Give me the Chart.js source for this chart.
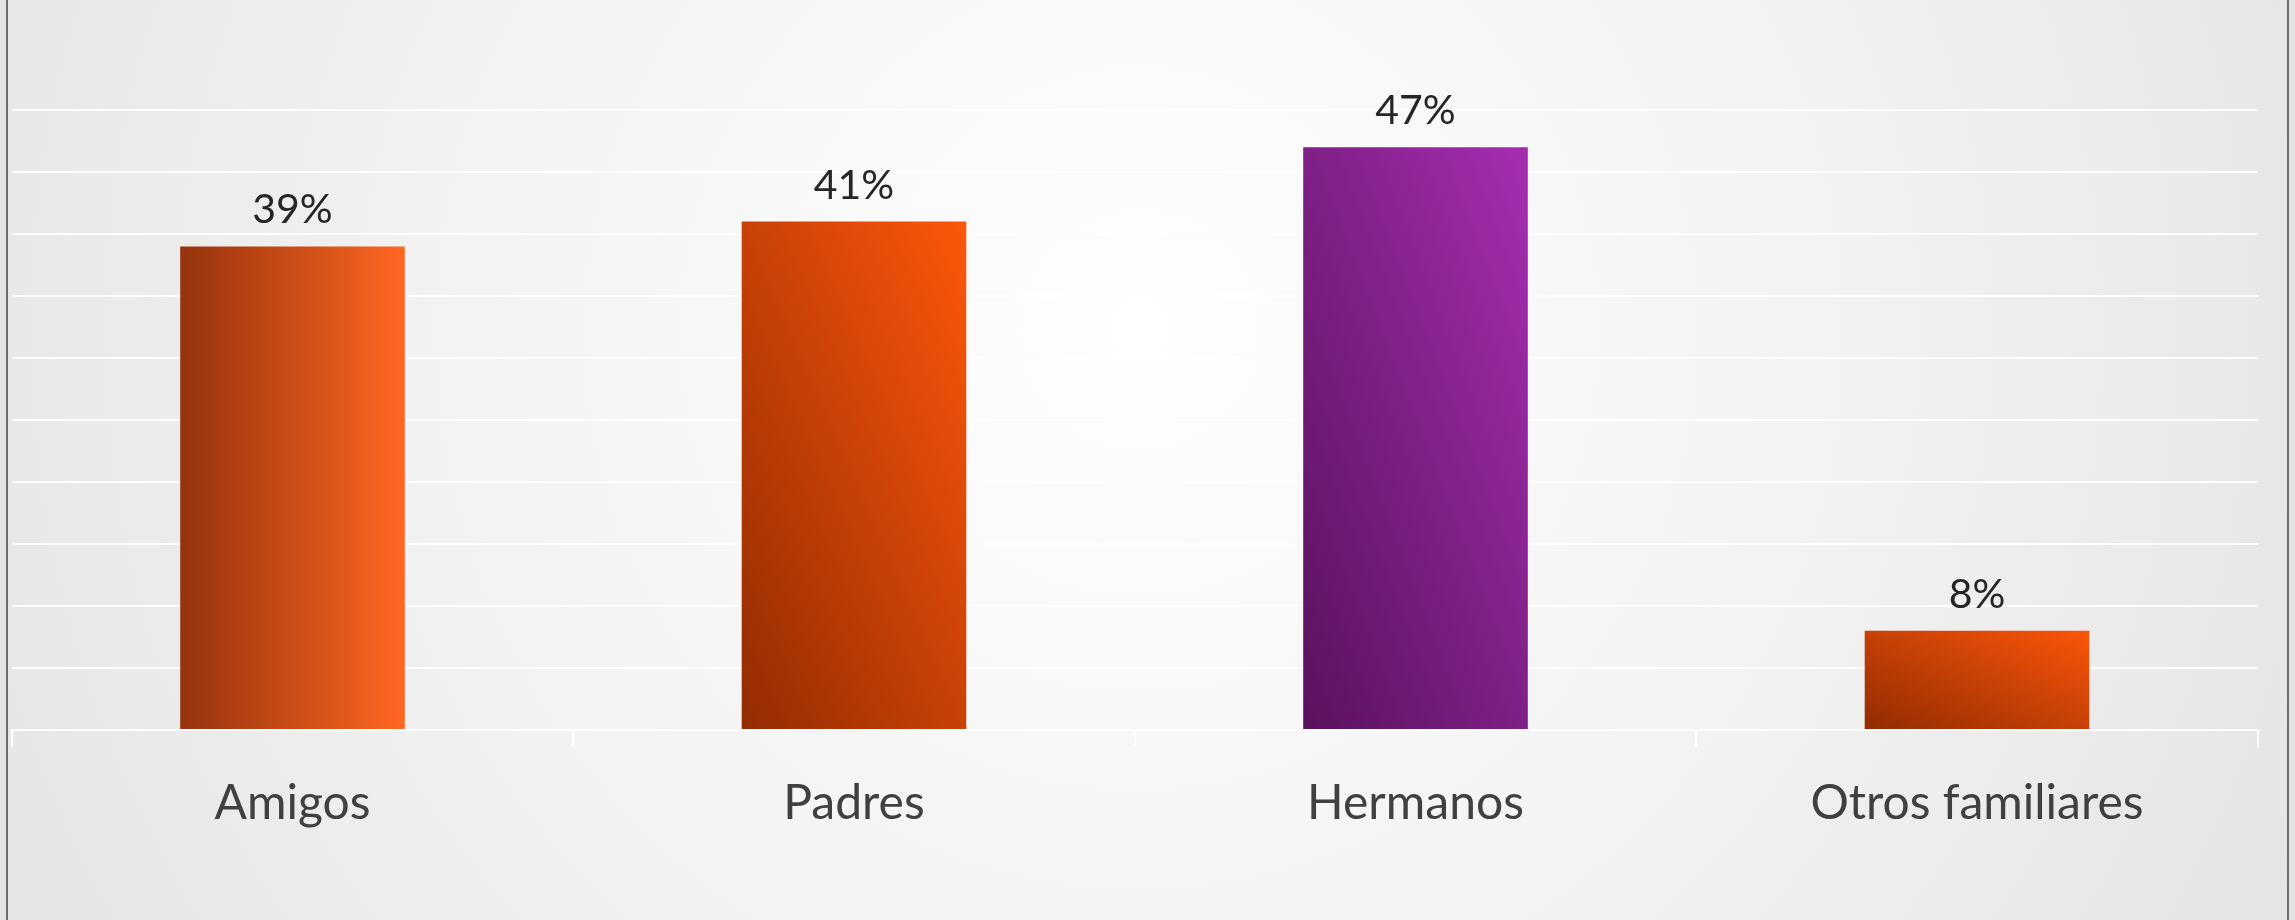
<!DOCTYPE html>
<html>
<head>
<meta charset="utf-8">
<script src="https://cdn.jsdelivr.net/npm/chart.js@4/dist/chart.umd.min.js"></script>
<style>
  html, body { margin: 0; padding: 0; background: #e8e8e8; }
  canvas { display: block; }
</style>
</head>
<body>
<canvas id="c" width="2295" height="920"></canvas>
<script>
// ---- data ----
const categories = ["Amigos", "Padres", "Hermanos", "Otros familiares"];
const values = [39, 41, 47, 8];
const yTickValues = [0, 5, 10, 15, 20, 25, 30, 35, 40, 45, 50];

// ---- styles ----
const barGradients = [
  { dir: "horizontal", stops: ["#96330e", "#ff6720"] },
  { dir: "diagonal",   stops: ["#932c02", "#fd570a"] },
  { dir: "diagonal",   stops: ["#59125d", "#a52eb0"] },
  { dir: "diagonal",   stops: ["#922c02", "#fb560a"] }
];
const FONT = "Lato, 'Open Sans', sans-serif";

const backgroundPlugin = {
  id: "bg",
  beforeDraw(chart) {
    const ctx = chart.ctx;
    const w = chart.width, h = chart.height;
    ctx.save();
    const g = ctx.createRadialGradient(1140, 330, 0, 1140, 330, 1300);
    g.addColorStop(0, "#ffffff");
    g.addColorStop(0.12, "#fcfcfc");
    g.addColorStop(0.55, "#f2f2f2");
    g.addColorStop(1, "#e4e4e4");
    ctx.fillStyle = g;
    ctx.fillRect(0, 0, w, h);
    ctx.fillStyle = "#e4e4e4";
    ctx.fillRect(0, 0, 6, h);
    ctx.fillRect(w - 6, 0, 6, h);
    ctx.strokeStyle = "#6c6c6c";
    ctx.lineWidth = 2;
    ctx.beginPath();
    ctx.moveTo(7, 0); ctx.lineTo(7, h);
    ctx.moveTo(2288, 0); ctx.lineTo(2288, h);
    ctx.stroke();
    ctx.restore();
  }
};

const gradientPlugin = {
  id: "barGrad",
  beforeDatasetsDraw(chart) {
    const ctx = chart.ctx;
    const meta = chart.getDatasetMeta(0);
    meta.data.forEach((bar, i) => {
      const p = bar.getProps(["x", "y", "base", "width"], true);
      const left = p.x - p.width / 2, right = p.x + p.width / 2;
      const spec = barGradients[i % barGradients.length];
      let g;
      if (spec.dir === "horizontal") {
        g = ctx.createLinearGradient(left, 0, right, 0);
      } else {
        const bw = p.width, bh = Math.abs(p.base - p.y);
        const cx = p.x, cy = (p.base + p.y) / 2;
        const k = bw * bh / (bw * bw + bh * bh);
        const dx = bh * k, dy = -bw * k;
        g = ctx.createLinearGradient(cx - dx, cy - dy, cx + dx, cy + dy);
      }
      g.addColorStop(0, spec.stops[0]);
      g.addColorStop(1, spec.stops[1]);
      bar.options = Object.assign({}, bar.options, { backgroundColor: g });
    });
  }
};

const labelPlugin = {
  id: "valueLabels",
  afterDatasetsDraw(chart) {
    const ctx = chart.ctx;
    const meta = chart.getDatasetMeta(0);
    const data = chart.data.datasets[0].data;
    ctx.save();
    ctx.font = "41px " + FONT;
    ctx.fillStyle = "#262626";
    ctx.textAlign = "center";
    ctx.textBaseline = "alphabetic";
    meta.data.forEach((bar, i) => {
      ctx.fillText(data[i] + "%", bar.x, bar.y - 23);
    });
    ctx.restore();
  }
};

new Chart(document.getElementById("c"), {
  type: "bar",
  data: {
    labels: categories,
    datasets: [{
      data: values,
      backgroundColor: "#e85a14",
      borderWidth: 0,
      barPercentage: 0.4,
      categoryPercentage: 1.0
    }]
  },
  options: {
    responsive: false,
    animation: false,
    devicePixelRatio: 1,
    layout: { padding: { left: 11.75, right: 37.25, top: 110, bottom: 0 } },
    plugins: { legend: { display: false }, tooltip: { enabled: false } },
    scales: {
      x: {
        offset: true,
        grid: { display: true, drawOnChartArea: false, drawTicks: true, tickLength: 17, color: "#ffffff", lineWidth: 2, offset: true },
        border: { display: true, color: "#ffffff", width: 2 },
        ticks: { color: "#404040", font: { family: FONT, size: 48 }, padding: 28, maxRotation: 0, autoSkip: false },
        afterFit(scale) { scale.height = 190; }
      },
      y: {
        min: 0,
        max: 50,
        afterBuildTicks(scale) { scale.ticks = yTickValues.map(v => ({ value: v })); },
        grid: { color: "#ffffff", lineWidth: 2, drawTicks: false },
        border: { display: false },
        ticks: { display: false },
        afterFit(scale) { scale.width = 0; }
      }
    }
  },
  plugins: [backgroundPlugin, gradientPlugin, labelPlugin]
});
</script>
</body>
</html>
